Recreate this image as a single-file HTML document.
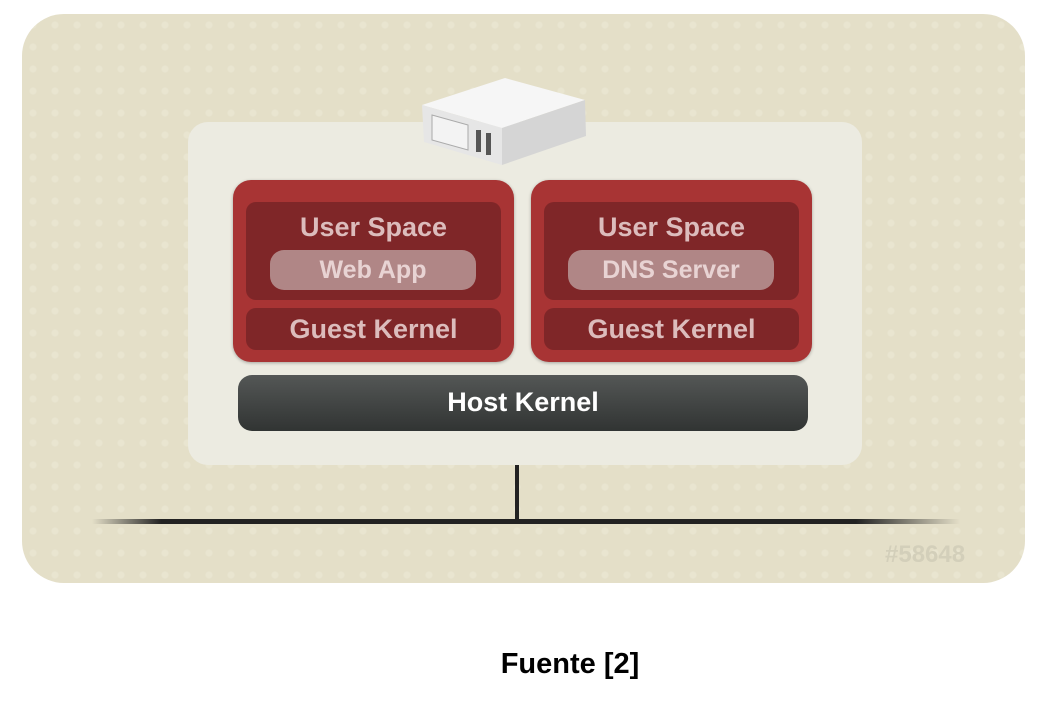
<!DOCTYPE html>
<html><head><style>
body{margin:0;width:1056px;height:710px;background:#fff;position:relative;overflow:hidden;font-family:"Liberation Sans",sans-serif}
.a{position:absolute}
.outer{left:22px;top:14px;width:1003px;height:569px;border-radius:42px;background:#e4dfc8;
background-image:radial-gradient(circle,#e9e5d0 3px,transparent 4px);background-size:22px 22px}
.panel{left:188px;top:122px;width:674px;height:343px;border-radius:20px;background:#ecebe1}
.red{width:281px;height:182px;top:180px;border-radius:18px;background:#a83434;box-shadow:0 1px 3px rgba(0,0,0,.3)}
.dk{background:#7f2628;border-radius:10px;left:13px;width:255px}
.t{color:#dcbcbc;font-weight:bold;font-size:27px;text-align:center;width:100%;position:absolute}
.pill{left:24px;width:206px;top:48px;height:40px;border-radius:14px;background:#b08686;color:#e8d3d3;font-weight:bold;font-size:25px;text-align:center;line-height:40px}
.host{left:238px;top:375px;width:570px;height:56px;border-radius:14px;background:linear-gradient(#545756,#313433);color:#fff;font-weight:bold;font-size:27px;text-align:center;line-height:54px}
</style></head><body>
<div class="a outer"></div>
<div class="a panel"></div>
<svg class="a" style="left:410px;top:70px" width="190" height="100" viewBox="0 0 190 100">
<polygon points="12,35 95,8 175,30 92,58" fill="#f6f6f6"/>
<polygon points="12,35 92,58 92,95 14,72" fill="#e6e6e6"/>
<polygon points="92,58 175,30 176,66 92,95" fill="#d5d5d5"/>
<polygon points="22,45 58,55 58,80 22,70" fill="#f3f3f3" stroke="#aaa" stroke-width="1"/>
<rect x="66" y="60" width="5" height="22" fill="#555"/>
<rect x="76" y="63" width="5" height="22" fill="#555"/>
</svg>
<div class="a red" style="left:233px">
 <div class="a dk" style="top:22px;height:98px"><div class="t" style="top:10px">User Space</div><div class="a pill">Web App</div></div>
 <div class="a dk" style="top:128px;height:42px"><div class="t" style="top:6px">Guest Kernel</div></div>
</div>
<div class="a red" style="left:531px">
 <div class="a dk" style="top:22px;height:98px"><div class="t" style="top:10px">User Space</div><div class="a pill">DNS Server</div></div>
 <div class="a dk" style="top:128px;height:42px"><div class="t" style="top:6px">Guest Kernel</div></div>
</div>
<div class="a host">Host Kernel</div>
<div class="a" style="left:515px;top:465px;width:4px;height:56px;background:#222"></div>
<div class="a" style="left:92px;top:519px;width:868px;height:5px;background:linear-gradient(90deg,rgba(34,34,34,0),#222 8%,#222 88%,rgba(34,34,34,0))"></div>
<div class="a" style="left:885px;top:541px;color:#d3cfba;font-weight:bold;font-size:24px">#58648</div>
<div class="a" style="left:0;width:1140px;top:648px;text-align:center;font-weight:bold;font-size:29px;color:#000">Fuente [2]</div>
</body></html>
